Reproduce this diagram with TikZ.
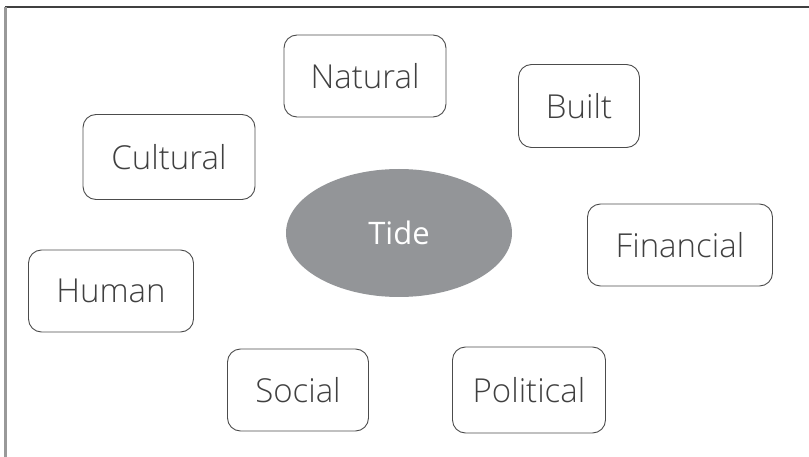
\documentclass[tikz,border=0pt]{standalone}
\usepackage{fontspec}
\setmainfont{Open Sans}[UprightFont={* Light}]
\newfontfamily\tidefont{Open Sans}
\definecolor{tidegrey}{HTML}{939598}
\definecolor{txtgrey}{HTML}{404040}
\tikzset{
	capbox/.style={draw=black!70, line width=0.9pt, rounded corners=13pt, text=txtgrey, font=\fontsize{33}{33}\selectfont},
	tidenode/.style={ellipse, fill=tidegrey, text=white, font=\tidefont\fontsize{31}{31}\selectfont, minimum width=226pt, minimum height=128pt, inner sep=0pt}
}
\usetikzlibrary{shapes.geometric}
\begin{document}
\begin{tikzpicture}[x=1pt, y=-1pt]
			\useasboundingbox (0,0) rectangle (809,457);
			\draw[black!75, line width=1.8pt] (5,7)--(809,7);
			\draw[black!40, line width=2.2pt] (5.5,7)--(5.5,457);
			\node[tidenode] (tide) at (399,233) {Tide};
			\node[capbox, minimum width=162pt, minimum height=82pt] (natural) at (365,76) {Natural};
			\node[capbox, minimum width=121pt, minimum height=83pt] (built) at (579,106) {Built};
			\node[capbox, minimum width=172pt, minimum height=85pt] (cultural) at (169,157) {Cultural};
			\node[capbox, minimum width=185pt, minimum height=82pt] (financial) at (680,245) {Financial};
			\node[capbox, minimum width=165pt, minimum height=82pt] (human) at (111,291) {Human};
			\node[capbox, minimum width=141pt, minimum height=82pt] (social) at (298,390) {Social};
			\node[capbox, minimum width=153pt, minimum height=86pt] (political) at (529,390) {Political};
	\end{tikzpicture}
\end{document}
